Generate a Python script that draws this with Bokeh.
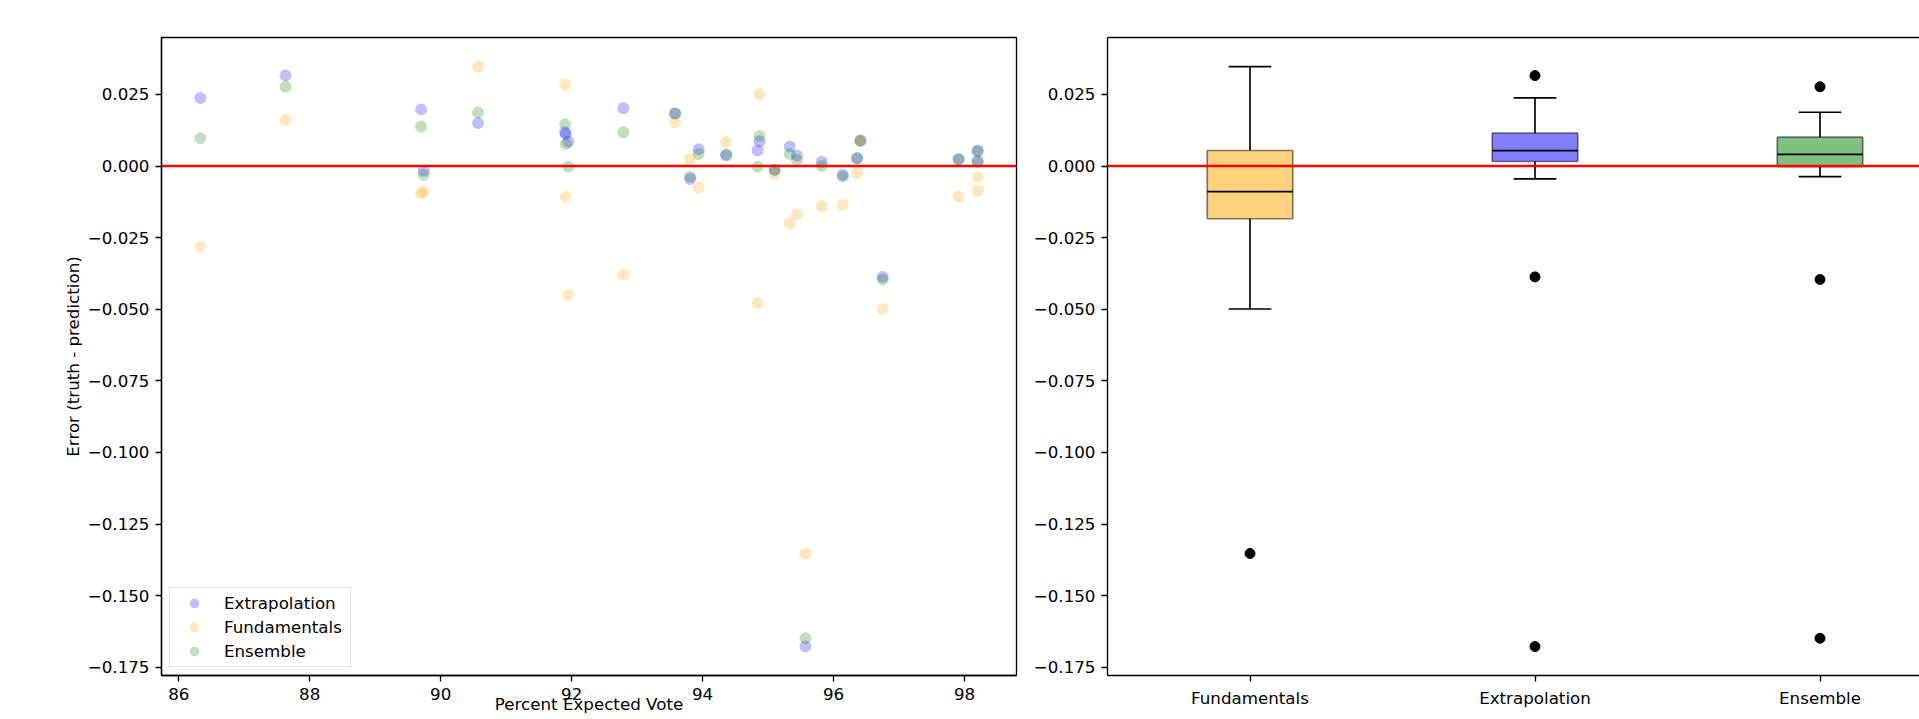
import numpy as np
from bokeh.plotting import figure
from bokeh.layouts import row
from bokeh.models import Span, FixedTicker, CustomJSTickFormatter, LinearAxis, Range1d
from bokeh.embed import file_html
from bokeh.resources import INLINE

# ---------------- data ----------------
percent_expected_vote = [86.33, 87.63, 89.70, 89.74, 90.57, 91.90, 91.91, 91.95, 92.79,
                         93.58, 93.81, 93.94, 94.36, 94.84, 94.87, 95.10, 95.33, 95.44,
                         95.57, 95.82, 96.14, 96.36, 96.41, 96.75, 97.91, 98.20, 98.20]

extrapolation_err = [0.0238, 0.0316, 0.0198, -0.0016, 0.0150, 0.0118, 0.0112, 0.0085, 0.0202,
                     0.0184, -0.0045, 0.0059, 0.0037, 0.0054, 0.0087, -0.0013, 0.0068, 0.0037,
                     -0.1678, 0.0015, -0.0030, 0.0027, 0.0089, -0.0387, 0.0024, 0.0054, 0.0017]

fundamentals_err = [-0.0282, 0.0160, -0.0096, -0.0089, 0.0347, 0.0284, -0.0108, -0.0450, -0.0378,
                    0.0153, 0.0025, -0.0075, 0.0084, -0.0478, 0.0251, -0.0028, -0.0200, -0.0168,
                    -0.1353, -0.0140, -0.0136, -0.0023, 0.0088, -0.0499, -0.0107, -0.0037, -0.0086]

ensemble_err = [0.0097, 0.0277, 0.0138, -0.0030, 0.0188, 0.0146, 0.0077, -0.0002, 0.0118,
                0.0184, -0.0037, 0.0042, 0.0041, -0.0002, 0.0105, -0.0014, 0.0042, 0.0021,
                -0.1649, 0.0000, -0.0036, 0.0027, 0.0088, -0.0396, 0.0024, 0.0052, 0.0014]

box_categories = ["Fundamentals", "Extrapolation", "Ensemble"]
x_ticks = [86, 88, 90, 92, 94, 96, 98]
y_ticks = [-0.175, -0.150, -0.125, -0.100, -0.075, -0.050, -0.025, 0.000, 0.025]

# ---------------- styling ----------------
FONT = "DejaVu Sans"
FS = "16.7px"
LW = 1.33

y_range = Range1d(-0.1779, 0.0449)
yfmt = CustomJSTickFormatter(code="return (tick < -1e-12 ? '\u2212' : '') + Math.abs(tick).toFixed(3);")


def style_axis(ax):
    ax.axis_line_color = "black"
    ax.axis_line_width = LW
    ax.major_tick_line_color = "black"
    ax.major_tick_line_width = LW
    ax.major_tick_out = 6
    ax.major_tick_in = 0
    ax.minor_tick_line_color = None
    ax.major_label_text_font = FONT
    ax.major_label_text_font_size = FS
    ax.major_label_text_color = "black"
    ax.major_label_standoff = 6


H = 719
TOP = 37
BOTTOM = 44

# ---------------- left: scatter ----------------
p1 = figure(width=1030, height=H, x_range=Range1d(85.7365, 98.7935), y_range=y_range,
            output_backend="svg", toolbar_location=None,
            min_border_left=161, min_border_right=14, min_border_top=TOP, min_border_bottom=BOTTOM)
p1.grid.visible = False
p1.outline_line_color = "black"
p1.outline_line_width = LW
p1.outline_line_alpha = 1.0
p1.background_fill_color = "white"
style_axis(p1.xaxis[0])
style_axis(p1.yaxis[0])
p1.xaxis.ticker = FixedTicker(ticks=x_ticks)
p1.yaxis.ticker = FixedTicker(ticks=y_ticks)
p1.yaxis.formatter = yfmt
p1.yaxis.axis_label = "Error (truth - prediction)"
p1.yaxis.axis_label_text_font = FONT
p1.yaxis.axis_label_text_font_size = FS
p1.yaxis.axis_label_text_font_style = "normal"
p1.yaxis.axis_label_text_color = "black"
p1.yaxis.axis_label_standoff = 2

p1.xaxis.axis_label = "Percent Expected Vote"
p1.xaxis.axis_label_text_font = FONT
p1.xaxis.axis_label_text_font_size = FS
p1.xaxis.axis_label_text_font_style = "normal"
p1.xaxis.axis_label_text_color = "black"
p1.xaxis.axis_label_standoff = -9

series = [("Extrapolation", extrapolation_err, "blue"),
          ("Fundamentals", fundamentals_err, "orange"),
          ("Ensemble", ensemble_err, "green")]
for name, vals, col in series:
    p1.scatter(percent_expected_vote, vals, size=12, fill_color=col, fill_alpha=0.25,
               line_color=None, legend_label=name)

p1.add_layout(Span(location=0, dimension="width", line_color="red", line_width=2.5))

lg = p1.legend[0]
lg.location = (8, 8)
lg.padding = 3
lg.glyph_width = 42
lg.glyph_height = 24
lg.label_height = 24
lg.spacing = 0
lg.label_standoff = 9
lg.label_width = 123
lg.border_line_color = "#cccccc"
lg.border_line_width = LW
lg.background_fill_alpha = 0.8
lg.label_text_font = FONT
lg.label_text_font_size = FS
lg.label_text_color = "black"

# ---------------- right: box plots ----------------
W2 = 1919 - 1030
p2 = figure(width=W2, height=H, x_range=Range1d(0.5, 0.5 + (W2 - 77) / 285), y_range=y_range,
            output_backend="svg", toolbar_location=None,
            min_border_left=77, min_border_right=0, min_border_top=TOP, min_border_bottom=BOTTOM)
p2.grid.visible = False
p2.outline_line_color = None
style_axis(p2.xaxis[0])
style_axis(p2.yaxis[0])
p2.yaxis.ticker = FixedTicker(ticks=y_ticks)
p2.yaxis.formatter = yfmt
positions = list(range(1, len(box_categories) + 1))
p2.xaxis.ticker = FixedTicker(ticks=positions)
p2.xaxis.major_label_overrides = {pos: c for pos, c in zip(positions, box_categories)}

top_axis = LinearAxis(ticker=FixedTicker(ticks=[]), axis_line_color="black", axis_line_width=LW,
                      major_tick_line_color=None, minor_tick_line_color=None,
                      major_label_text_font_size="0px")
p2.add_layout(top_axis, "above")

box_data = {"Fundamentals": (fundamentals_err, "orange"),
            "Extrapolation": (extrapolation_err, "blue"),
            "Ensemble": (ensemble_err, "green")}

for pos, cat in zip(positions, box_categories):
    vals, col = box_data[cat]
    a = np.array(vals)
    q1, med, q3 = np.percentile(a, [25, 50, 75])
    iqr = q3 - q1
    lo = a[a >= q1 - 1.5 * iqr].min()
    hi = a[a <= q3 + 1.5 * iqr].max()
    fl = a[(a < lo) | (a > hi)]
    # whiskers and caps
    p2.segment(x0=[pos, pos], y0=[q3, q1], x1=[pos, pos], y1=[hi, lo], line_color="black", line_width=1.67)
    p2.segment(x0=[pos - 0.075, pos - 0.075], y0=[hi, lo], x1=[pos + 0.075, pos + 0.075], y1=[hi, lo],
               line_color="black", line_width=1.67)
    # box
    p2.quad(left=[pos - 0.15], right=[pos + 0.15], bottom=[q1], top=[q3], fill_color=col, fill_alpha=0.5,
            line_color="black", line_alpha=0.5, line_width=1.67)
    # median
    p2.segment(x0=[pos - 0.15], y0=[med], x1=[pos + 0.15], y1=[med], line_color="black", line_width=1.67)
    # fliers
    p2.scatter([pos] * len(fl), list(fl), size=10, fill_color="black", line_color="black")

p2.add_layout(Span(location=0, dimension="width", line_color="red", line_width=2.5))

layout = row(p1, p2)
open("out.html", "w").write(file_html(layout, INLINE))
